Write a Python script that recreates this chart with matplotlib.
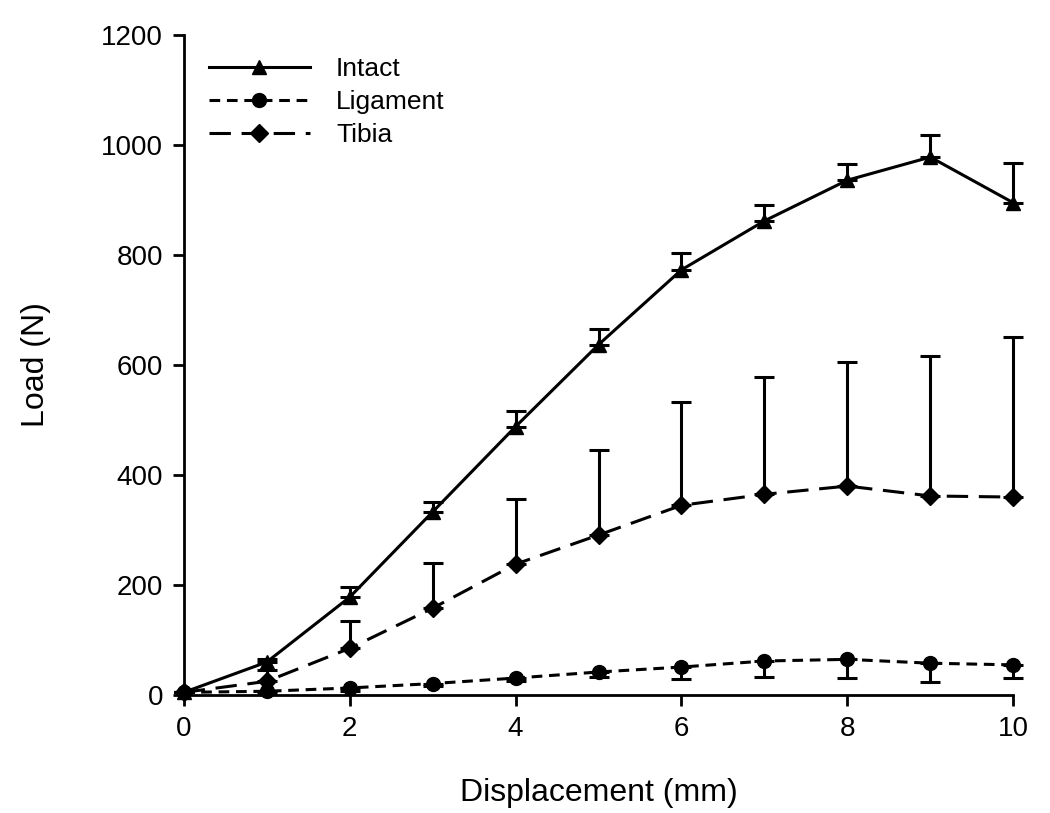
import numpy as np
import matplotlib
matplotlib.use("Agg")
import matplotlib.pyplot as plt

plt.rcParams['font.family'] = ['Liberation Sans', 'DejaVu Sans']

# displacement (mm)
disp = [0, 1, 2, 3, 4, 5, 6, 7, 8, 9, 10]

# mean load (N) and one-sided error (N)
intact = [5, 60, 178, 333, 488, 637, 773, 862, 936, 978, 895]
intact_err = [0, 6, 18, 18, 28, 28, 31, 29, 30, 41, 72]

ligament = [5, 7, 13, 21, 31, 42, 51, 62, 65, 58, 55]
ligament_err = [0, 3, 5, 5, 6, 9, 22, 29, 34, 34, 24]

tibia = [5, 25, 85, 158, 238, 291, 345, 365, 380, 362, 360]
tibia_err = [0, 20, 50, 82, 118, 154, 188, 213, 225, 254, 291]

fig = plt.figure(figsize=(10.5, 8.13), dpi=100)
ax = fig.add_axes([0.175, 0.145, 0.79, 0.812])

lw = 2.2
ms = 10

# error bars: intact and tibia upward, ligament downward
ax.errorbar(disp, intact, yerr=[np.zeros(len(intact)), intact_err], fmt='none',
            ecolor='black', elinewidth=lw, capsize=7, capthick=lw, clip_on=False)
ax.errorbar(disp, tibia, yerr=[np.zeros(len(tibia)), tibia_err], fmt='none',
            ecolor='black', elinewidth=lw, capsize=7, capthick=lw, clip_on=False)
ax.errorbar(disp, ligament, yerr=[ligament_err, np.zeros(len(ligament))], fmt='none',
            ecolor='black', elinewidth=lw, capsize=7, capthick=lw, clip_on=False)

ax.plot(disp, intact, color='black', linestyle='-', linewidth=lw,
        marker='^', markersize=ms, label='Intact', clip_on=False, zorder=3)
ax.plot(disp, ligament, color='black', linestyle=(0, (3.5, 2.2)), linewidth=lw,
        marker='o', markersize=ms, label='Ligament', clip_on=False, zorder=3)
ax.plot(disp, tibia, color='black', linestyle=(0, (7, 3.5)), linewidth=lw,
        marker='D', markersize=ms - 1, label='Tibia', clip_on=False, zorder=3)

ax.set_xlim(0, 10)
ax.set_ylim(0, 1200)
ax.set_xticks(range(0, 11, 2))
ax.set_yticks(range(0, 1201, 200))

ax.spines['top'].set_visible(False)
ax.spines['right'].set_visible(False)
ax.spines['left'].set_linewidth(2.0)
ax.spines['bottom'].set_linewidth(2.0)
ax.tick_params(direction='out', length=8, width=2.0, labelsize=20, pad=7)

ax.set_xlabel('Displacement (mm)', fontsize=23, labelpad=26)
ax.set_ylabel('Load (N)', fontsize=23, labelpad=36)

ax.legend(loc='upper left', frameon=False, fontsize=19, handlelength=3.8,
          handletextpad=1.0, labelspacing=0.35, borderaxespad=0.0,
          bbox_to_anchor=(0.018, 0.983))

fig.savefig('out.png', dpi=100)
